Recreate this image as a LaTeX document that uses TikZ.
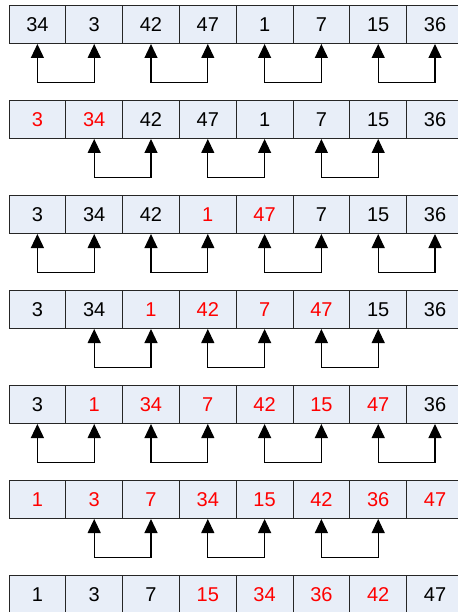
\documentclass[tikz,border=0pt]{standalone}
\usepackage{fontspec}
\setmainfont{Liberation Sans}
\usetikzlibrary{arrows.meta}
\definecolor{cellfill}{RGB}{232,238,248}
\tikzset{
  cell/.style={draw=black!85, fill=cellfill, line width=1pt, minimum width=56.8pt,
    minimum height=38pt, inner sep=0pt, font=\fontsize{20}{24}\selectfont},
  link/.style={draw, line width=1.2pt, {Triangle[length=14pt,width=13pt]}-{Triangle[length=14pt,width=13pt]}}
}
\begin{document}
\begin{tikzpicture}[x=1pt,y=-1pt]
\useasboundingbox (0,0) rectangle (457,612);
\foreach \row [count=\r from 0] in {
  {34/black,3/black,42/black,47/black,1/black,7/black,15/black,36/black},
  {3/red,34/red,42/black,47/black,1/black,7/black,15/black,36/black},
  {3/black,34/black,42/black,1/red,47/red,7/black,15/black,36/black},
  {3/black,34/black,1/red,42/red,7/red,47/red,15/black,36/black},
  {3/black,1/red,34/red,7/red,42/red,15/red,47/red,36/black},
  {1/red,3/red,7/red,34/red,15/red,42/red,36/red,47/red},
  {1/black,3/black,7/black,15/red,34/red,36/red,42/red,47/black}}
  \foreach \v/\c [count=\i from 0] in \row
    \node[cell, text=\c] (c\r\i) at ({9+56.8*(\i+0.5)}, {24.5+95*\r}) {\v};
\foreach \r in {0,2,4}
  \foreach \a/\b in {0/1,2/3,4/5,6/7}
    \draw[link] (c\r\a.south) -- ++(0,38.5) -| (c\r\b.south);
\foreach \r in {1,3,5}
  \foreach \a/\b in {1/2,3/4,5/6}
    \draw[link] (c\r\a.south) -- ++(0,38.5) -| (c\r\b.south);
\end{tikzpicture}
\end{document}
